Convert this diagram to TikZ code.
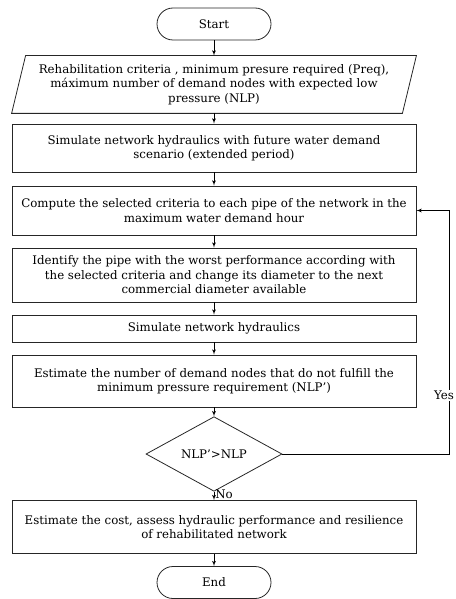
\documentclass[tikz,border=0pt]{standalone}
\usepackage{fontspec}
\setmainfont{DejaVu Serif}
\usetikzlibrary{arrows,shapes.geometric}

\begin{document}
\begin{tikzpicture}[>=latex', x=1pt, y=1pt, line width=0.8pt,
  every node/.style={font=\fontsize{11.8}{14.5}\selectfont},
  box/.style={rectangle,draw=black!85,minimum width=404pt,align=center,inner sep=2pt},
  term/.style={rectangle,rounded corners=16pt,draw=black!85,minimum width=114pt,minimum height=32pt}]
\useasboundingbox (0,0) rectangle (455,-599);
\node[term] (start) at (214,-24) {Start};
\node[rectangle,align=center,minimum width=404pt,minimum height=57pt,inner sep=0pt,node distance=60.5pt,below of=start] (input)
  {Rehabilitation criteria , minimum presure required (Preq),\\ máximum number of demand nodes with expected low\\ pressure (NLP)};
\draw[black!85] ([xshift=14pt]input.north west) -- (input.north east) -- ([xshift=-14pt]input.south east) -- (input.south west) -- cycle;
\node[box,minimum height=48pt,node distance=63.5pt,below of=input] (sim1)
  {Simulate network hydraulics with future water demand\\ scenario (extended period)};
\node[box,minimum height=49pt,node distance=62.5pt,below of=sim1] (crit)
  {Compute the selected criteria to each pipe of the network in the\\ maximum water demand hour};
\node[box,minimum height=54pt,node distance=64.5pt,below of=crit] (pipe)
  {Identify the pipe with the worst performance according with\\ the selected criteria and change its diameter to the next\\ commercial diameter available};
\node[box,minimum height=27pt,node distance=53.5pt,below of=pipe] (sim2)
  {Simulate network hydraulics};
\node[box,minimum height=52pt,node distance=52.5pt,below of=sim2] (nlp)
  {Estimate the number of demand nodes that do not fulfill the\\ minimum pressure requirement (NLP')};
\node[diamond,draw=black!85,minimum width=136pt,minimum height=64pt,inner sep=0pt,node distance=73pt,below of=nlp] (dec)
  {NLP'>NLP};
\node[box,minimum height=53pt,node distance=73pt,below of=dec] (cost)
  {Estimate the cost, assess hydraulic performance and resilience\\ of rehabilitated network};
\node[term,node distance=55.5pt,below of=cost] (end) {End};
\coordinate (back) at (449,-454);

\draw [->] (start) -- (input);
\draw [->] (input) -- (sim1);
\draw [->] (sim1) -- (crit);
\draw [->] (crit) -- (pipe);
\draw [->] (pipe) -- (sim2);
\draw [->] (sim2) -- (nlp);
\draw [->] (nlp) -- (dec);
\draw [->] (dec) -- node[right,pos=0.35,inner sep=1pt] {No} (cost);
\draw [->] (cost) -- (end);
\draw [->] (dec) -- (back) |- node[pos=0.12,fill=white,inner sep=1pt,xshift=-5pt] {Yes} (crit);

\end{tikzpicture}
\end{document}
